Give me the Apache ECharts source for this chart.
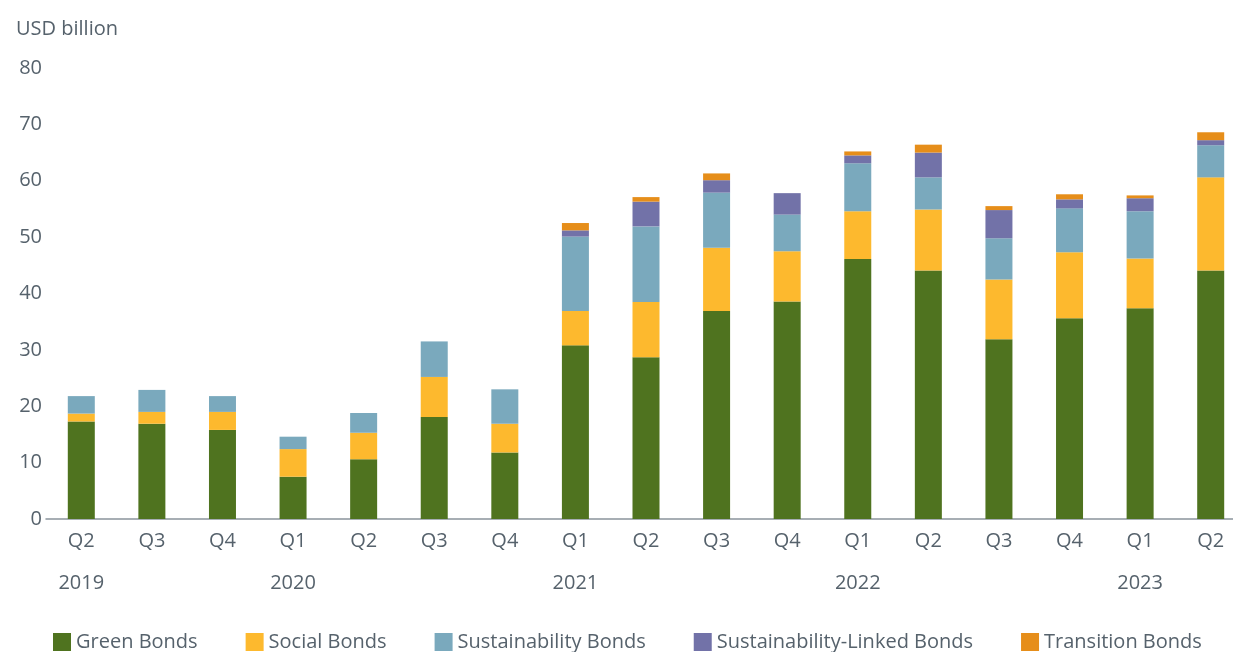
<!DOCTYPE html>
<html>
<head>
<meta charset="utf-8">
<script src="https://cdn.jsdelivr.net/npm/echarts@6/dist/echarts.min.js"></script>
<style>
	html, body { margin: 0; padding: 0; background: #fff; }
	#chart { width: 1233px; height: 652px; }
</style>
</head>
<body>
<div id="chart"></div>
<script>
	var quarters = ['Q2','Q3','Q4','Q1','Q2','Q3','Q4','Q1','Q2','Q3','Q4','Q1','Q2','Q3','Q4','Q1','Q2'];
	var years = ['2019','','','2020','','','','2021','','','','2022','','','','2023',''];
	var greenBonds = [17.3,16.9,15.8,7.5,10.6,18.1,11.8,30.8,28.7,36.9,38.6,46.1,44.1,31.9,35.6,37.4,44.1];
	var socialBonds = [1.4,2.1,3.2,4.9,4.7,7.1,5.1,6.1,9.8,11.2,8.9,8.5,10.8,10.6,11.7,8.8,16.5];
	var sustainabilityBonds = [3.1,3.9,2.8,2.2,3.5,6.3,6.1,13.2,13.4,9.8,6.5,8.5,5.7,7.3,7.8,8.4,5.7];
	var slBonds = [0,0,0,0,0,0,0,1.1,4.4,2.2,3.8,1.4,4.4,5.0,1.6,2.3,0.9];
	var transitionBonds = [0,0,0,0,0,0,0,1.3,0.8,1.2,0,0.7,1.4,0.7,0.9,0.5,1.4];

	var textColor = '#56626c';
	var font = '"Open Sans", sans-serif';

	var chart = echarts.init(document.getElementById('chart'));

	function bar(name, data) {
		return {
			name: name,
			type: 'bar',
			stack: 'total',
			barWidth: 27,
			data: data
		};
	}

	var option = {
		animation: false,
		color: ['#4f731f', '#fdb92e', '#7aa9bd', '#7272a8', '#e68e1a'],
		textStyle: { fontFamily: font },
		title: {
			text: 'USD billion',
			left: 11,
			top: 14,
			textStyle: { color: textColor, fontSize: 20, fontWeight: 'normal', fontFamily: font }
		},
		legend: {
			left: 48,
			top: 627,
			itemWidth: 18,
			itemHeight: 18,
			itemGap: 48,
			icon: 'rect',
			textStyle: { color: textColor, fontSize: 20, fontFamily: font },
			data: ['Green Bonds', 'Social Bonds', 'Sustainability Bonds', 'Sustainability-Linked Bonds', 'Transition Bonds']
		},
		grid: {
			left: 46,
			width: 1200,
			top: 68,
			bottom: 133,
			outerBoundsMode: 'none'
		},
		xAxis: [
			{
				type: 'category',
				data: quarters,
				axisLine: { lineStyle: { color: '#8a949c', width: 1.5 } },
				axisTick: { show: false },
				axisLabel: { color: textColor, fontSize: 20, fontFamily: font, margin: 12, interval: 0 }
			},
			{
				type: 'category',
				position: 'bottom',
				offset: 42,
				data: years,
				axisLine: { show: false },
				axisTick: { show: false },
				axisLabel: { color: textColor, fontSize: 20, fontFamily: font, margin: 12, interval: 0 }
			}
		],
		yAxis: {
			type: 'value',
			min: 0,
			max: 80,
			interval: 10,
			splitLine: { show: false },
			axisLine: { show: false },
			axisTick: { show: false },
			axisLabel: { color: textColor, fontSize: 20, fontFamily: font, margin: 4 }
		},
		series: [
			bar('Green Bonds', greenBonds),
			bar('Social Bonds', socialBonds),
			bar('Sustainability Bonds', sustainabilityBonds),
			bar('Sustainability-Linked Bonds', slBonds),
			bar('Transition Bonds', transitionBonds)
		]
	};

	chart.setOption(option);
</script>
</body>
</html>
